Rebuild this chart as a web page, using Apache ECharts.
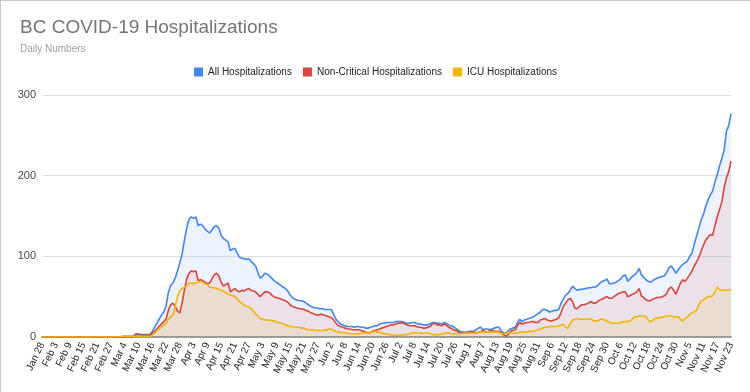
<!DOCTYPE html>
<html>
<head>
<meta charset="utf-8">
<script src="https://cdn.jsdelivr.net/npm/echarts@6/dist/echarts.min.js"></script>
<style>
html,body{margin:0;padding:0;background:#fff;}
#wrap{width:750px;height:392px;box-sizing:border-box;border-left:1px solid #c8c8c8;border-top:1px solid #c8c8c8;}
#chart{width:749px;height:391px;}
</style>
</head>
<body>
<div id="wrap"><div id="chart"></div></div>
<script>
// Dates: Jan 28 2020 .. Nov 23 2020 (daily)
const startDate = [2020, 0, 28];
const dayCount = 301;
const monthNames = ['Jan','Feb','Mar','Apr','May','Jun','Jul','Aug','Sep','Oct','Nov','Dec'];
const categories = [];
for (let k = 0; k < dayCount; k++) {
  const d = new Date(startDate[0], startDate[1], startDate[2] + k);
  categories.push(monthNames[d.getMonth()] + ' ' + d.getDate());
}

const allHosp = [
0,0,0,0,0,0,0,0,0,0,
0,0,0,0,0,0,0,0,0,0,
0,0,0,0,0,0,0,0,0,0,
0,0,0,0,0,1,1,1,1,1,
2,4,4,3,3,3,3,3,7,12,
17,22,27,31,38,55,64,67,73,82,
92,103,120,135,146,149,147,149,138,140,
138,134,131,129,133,137,138,135,126,122,
120,118,107,109,110,104,99,98,97,96,
97,94,91,88,80,73,75,79,78,76,
73,70,68,66,64,62,60,57,52,49,
47,46,45,45,44,42,40,38,37,36,
36,35,35,34,34,34,34,28,22,19,
16,15,14,13,13,13,12,13,13,12,
12,11,11,12,13,14,14,16,17,17,
18,18,18,18,19,19,19,19,18,17,
17,18,18,17,16,16,15,15,15,16,
18,18,17,17,16,18,17,15,14,13,
11,9,7,6,6,6,7,7,7,9,
11,12,9,10,10,9,10,11,12,12,
7,5,5,8,10,11,12,18,22,19,
21,22,23,24,25,27,29,31,34,34,
33,31,32,33,33,34,42,47,52,54,
58,63,60,58,59,59,60,60,61,61,
62,62,64,67,69,70,72,66,66,67,
68,70,72,76,77,69,72,75,77,80,
85,77,74,71,69,68,70,72,73,74,
75,76,80,86,88,84,79,83,87,90,
92,94,100,104,115,125,135,145,152,162,
170,176,181,192,201,212,221,232,255,262,
277];

const nonCritical = [
0,0,0,0,0,0,0,0,0,0,
0,0,0,0,0,0,0,0,0,0,
0,0,0,0,0,0,0,0,0,0,
0,0,0,0,0,0,0,0,0,0,
1,3,3,2,2,2,2,2,5,7,
10,13,16,19,22,33,40,42,38,32,
30,42,58,72,79,82,81,82,70,71,
70,68,66,67,72,77,79,76,68,63,
65,67,56,58,60,57,56,58,57,59,
60,58,57,56,53,50,53,56,56,55,
52,50,49,48,47,46,45,43,40,38,
37,36,35,35,34,33,32,30,29,28,
27,28,28,27,26,25,24,21,17,14,
13,12,11,10,10,9,9,9,9,8,
7,6,5,6,7,8,9,10,11,12,
13,14,15,15,16,17,17,18,16,15,
14,14,14,13,12,12,11,11,12,13,
16,17,15,15,14,16,15,12,11,9,
8,7,5,5,5,5,6,6,6,5,
6,6,9,6,6,8,8,7,7,7,
5,3,1,3,7,8,9,14,18,16,
17,18,18,19,19,18,18,21,22,23,
21,20,20,21,22,24,30,38,42,46,
48,44,36,35,38,40,40,41,42,44,
42,42,44,46,47,49,50,48,48,50,
52,54,55,56,56,50,51,53,54,56,
60,51,49,46,45,45,47,48,49,49,
50,51,54,60,62,58,53,60,67,71,
69,73,77,82,88,93,99,106,114,120,
124,127,126,138,149,158,167,185,197,205,
218];

const icu = [
0,0,0,0,0,0,0,0,0,0,
0,0,0,0,0,0,0,0,0,0,
0,0,0,0,0,0,0,0,0,0,
0,0,0,0,0,1,1,1,1,1,
1,1,1,1,1,1,1,1,2,5,
8,10,12,15,17,22,25,27,38,50,
57,60,62,63,67,67,66,67,68,69,
68,66,65,62,61,61,60,59,58,57,
55,53,52,51,50,47,44,42,39,38,
37,36,32,29,26,23,22,21,21,21,
20,20,19,18,17,16,15,14,13,13,
12,12,12,11,11,10,9,9,9,8,
8,8,8,8,9,10,10,8,7,6,
6,5,5,5,4,4,4,4,4,5,
5,5,5,6,6,7,6,6,5,4,
4,3,3,2,2,2,2,2,3,3,
4,5,5,5,5,5,5,5,5,4,
3,3,3,3,4,4,5,5,4,4,
4,4,4,4,5,5,5,5,5,5,
6,6,6,6,6,6,6,6,6,6,
4,4,5,5,5,5,5,5,6,6,
6,6,7,7,7,8,9,10,11,12,
12,13,13,13,13,14,15,16,12,11,
17,21,22,23,22,22,22,22,22,23,
20,20,20,22,22,21,20,18,17,17,
17,17,18,19,19,19,20,22,25,25,
26,26,26,25,21,19,21,23,24,24,
25,25,26,26,26,25,25,25,22,20,
23,25,28,30,31,33,40,45,46,48,
50,50,51,56,62,59,58,58,58,58,
59];

const seriesNames = ['All Hospitalizations', 'Non-Critical Hospitalizations', 'ICU Hospitalizations'];
const seriesColors = ['#4285f4', '#db4437', '#f4b400'];
const yTicks = [0, 100, 200, 300];

const font = "'Liberation Sans', Arial, sans-serif";
const chart = echarts.init(document.getElementById('chart'));

function mk(name, data, color) {
  return {
    name: name, type: 'line', data: data, showSymbol: false, symbol: 'none',
    lineStyle: { color: color, width: 1.6 },
    itemStyle: { color: color },
    areaStyle: { color: color, opacity: 0.1 },
    animation: false
  };
}

chart.setOption({
  animation: false,
  title: [
    { text: 'BC COVID-19 Hospitalizations', left: 19, top: 17, padding: 0,
      textStyle: { fontFamily: font, fontSize: 19, fontWeight: 'normal', color: '#757575' } },
    { text: 'Daily Numbers', left: 19, top: 43, padding: 0,
      textStyle: { fontFamily: font, fontSize: 10, fontWeight: 'normal', color: '#9e9e9e' } }
  ],
  legend: {
    top: 66, left: 'center', padding: 0,
    icon: 'rect', itemWidth: 9, itemHeight: 9, itemGap: 11,
    textStyle: { fontFamily: font, fontSize: 10, color: '#222' },
    data: seriesNames
  },
  grid: { left: 41, right: 19, top: 94, bottom: 55 },
  xAxis: {
    type: 'category', data: categories, boundaryGap: false,
    axisLine: { lineStyle: { color: '#9e9e9e', width: 2 } },
    axisTick: { show: false },
    axisLabel: { interval: 5, rotate: 65, fontFamily: font, fontSize: 10, color: '#222', margin: 6 },
    splitLine: { show: false }
  },
  yAxis: {
    type: 'value', min: yTicks[0], max: yTicks[yTicks.length - 1], interval: 100,
    axisLine: { show: false }, axisTick: { show: false },
    axisLabel: { fontFamily: font, fontSize: 11, color: '#444', margin: 6 },
    splitLine: { lineStyle: { color: '#e0e0e0', width: 1 } }
  },
  series: [
    mk(seriesNames[0], allHosp, seriesColors[0]),
    mk(seriesNames[1], nonCritical, seriesColors[1]),
    mk(seriesNames[2], icu, seriesColors[2])
  ]
});
</script>
</body>
</html>
